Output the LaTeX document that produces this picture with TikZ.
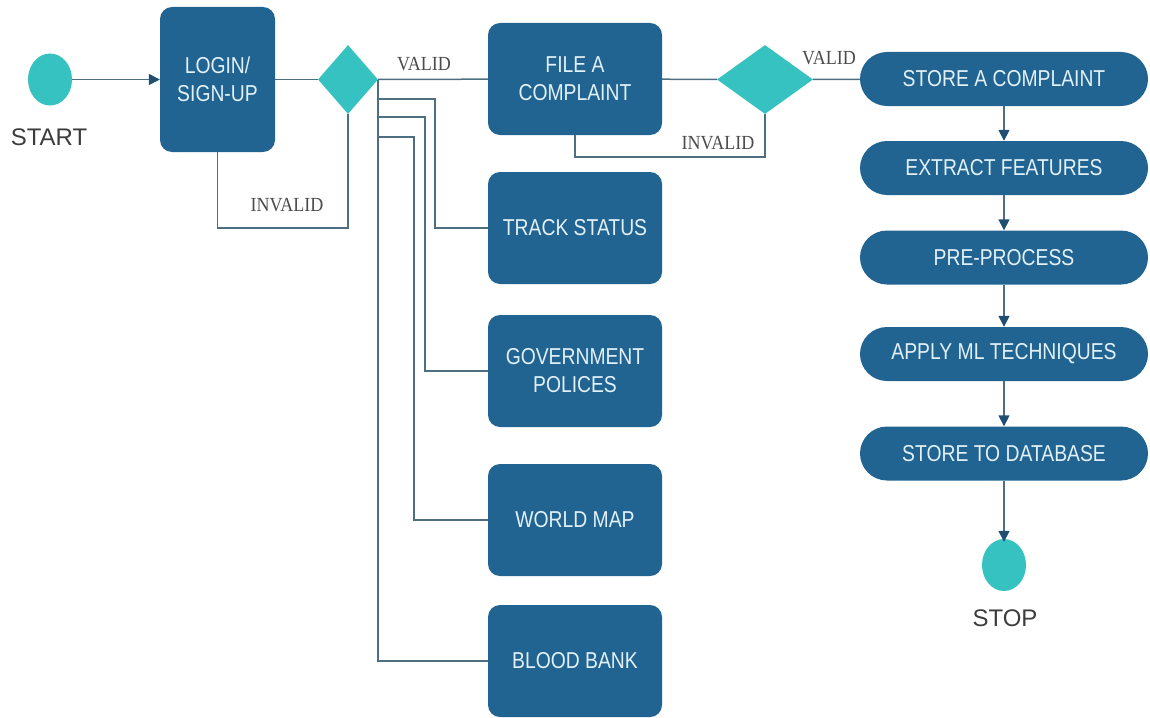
\documentclass[tikz,border=0pt]{standalone}
\usepackage{fontspec}
\usetikzlibrary{shapes.geometric,arrows.meta,calc}
\setmainfont{Liberation Sans}
\newfontfamily\boxfont[FakeStretch=0.84]{Liberation Sans}
\newfontfamily\tagfont[FakeStretch=0.9]{Liberation Serif}

\definecolor{boxblue}{RGB}{33,99,145}
\definecolor{capteal}{RGB}{54,194,192}
\definecolor{linec}{RGB}{78,110,130}
\definecolor{tipc}{RGB}{32,78,112}
\definecolor{boxtext}{RGB}{226,241,247}
\definecolor{labelc}{RGB}{60,60,60}
\definecolor{tagc}{RGB}{75,75,75}

\tikzset{
  flowline/.style={draw=linec, line width=1.5pt},
  flowarrow/.style={flowline, -{Triangle[length=11pt,width=11pt,color=tipc]}},
  terminal/.style={ellipse, fill=capteal, draw=none, minimum width=44pt, minimum height=52pt, inner sep=0pt},
  decision/.style={diamond, fill=capteal, draw=none, inner sep=0pt, minimum height=69pt},
  menubox/.style={rectangle, rounded corners=12pt, fill=boxblue, draw=none, text=boxtext,
    align=center, font=\boxfont\fontsize{23}{28}\selectfont,
    minimum width=174pt, minimum height=112pt, inner sep=0pt},
  stagebox/.style={rectangle, rounded corners=27pt, fill=boxblue, draw=none, text=boxtext,
    align=center, font=\boxfont\fontsize{23}{28}\selectfont,
    minimum width=288pt, minimum height=54pt, inner sep=0pt},
  termlabel/.style={text=labelc, font=\fontsize{24}{28}\selectfont},
  condlabel/.style={text=tagc, font=\tagfont\fontsize{20}{24}\selectfont, inner sep=0pt}
}

\begin{document}
\begin{tikzpicture}[x=1pt,y=-1pt]
\useasboundingbox (0,0) rectangle (1150,717);

% entry and login
\node[terminal] (start) at (50,79.5) {};
\node[termlabel] (startlbl) at (49,137) {START};
\node[menubox, minimum width=115pt, minimum height=145pt] (login) at (217.5,79.5) {LOGIN/\\SIGN-UP};
\node[decision, minimum width=60pt] (d1) at (348,79.5) {};

% user menu
\node[menubox] (file)  at (575,79)  {FILE A\\COMPLAINT};
\node[menubox] (track) at (575,228) {TRACK STATUS};
\node[menubox] (gov)   at (575,371) {GOVERNMENT\\POLICES};
\node[menubox] (world) at (575,520) {WORLD MAP};
\node[menubox] (blood) at (575,661) {BLOOD BANK};

\node[decision, minimum width=96pt] (d2) at (765,79.5) {};

% complaint processing pipeline
\node[stagebox] (store)   at (1004,79)    {STORE A COMPLAINT};
\node[stagebox] (extract) at (1004,168)   {EXTRACT FEATURES};
\node[stagebox] (pre)     at (1004,257.5) {PRE-PROCESS};
\node[stagebox] (ml)      at (1004,354)   {APPLY ML TECHNIQUES};
\node[stagebox] (db)      at (1004,453.5) {STORE TO DATABASE};
\node[terminal] (stop) at (1004,565) {};
\node[termlabel] (stoplbl) at (1005,618) {STOP};

% connectors
\draw[flowarrow] (start) -- (login);
\draw[flowline] (login) -- (d1);
\draw[flowline] (d1) -- (file);
\node[condlabel] (valid1) at (424,64) {VALID};

\draw[flowline] (login.south) -- ++(0,76) -| (d1.south);
\node[condlabel] (invalid1) at (287,205) {INVALID};

\draw[flowline] (d1.east) |- (blood);
\draw[flowline] ($(d1.east)+(0,19.5)$) -| ($(track.west)+(-53,0)$) -- (track);
\draw[flowline] ($(d1.east)+(0,37.5)$) -| ($(gov.west)+(-63,0)$) -- (gov);
\draw[flowline] ($(d1.east)+(0,57.5)$) -| ($(world.west)+(-74,0)$) -- (world);

\draw[flowline] (file) -- (d2);
\draw[flowline] (d2) -- (store);
\node[condlabel] (valid2) at (829,58) {VALID};
\draw[flowline] (file.south) -- ++(0,22) -| (d2.south);
\node[condlabel] (invalid2) at (718,143) {INVALID};

\draw[flowarrow] (store) -- (extract);
\draw[flowarrow] (extract) -- (pre);
\draw[flowarrow] (pre) -- (ml);
\draw[flowarrow] (ml) -- (db);
\draw[flowarrow, shorten >=-3pt] (db) -- (stop);
\end{tikzpicture}
\end{document}
